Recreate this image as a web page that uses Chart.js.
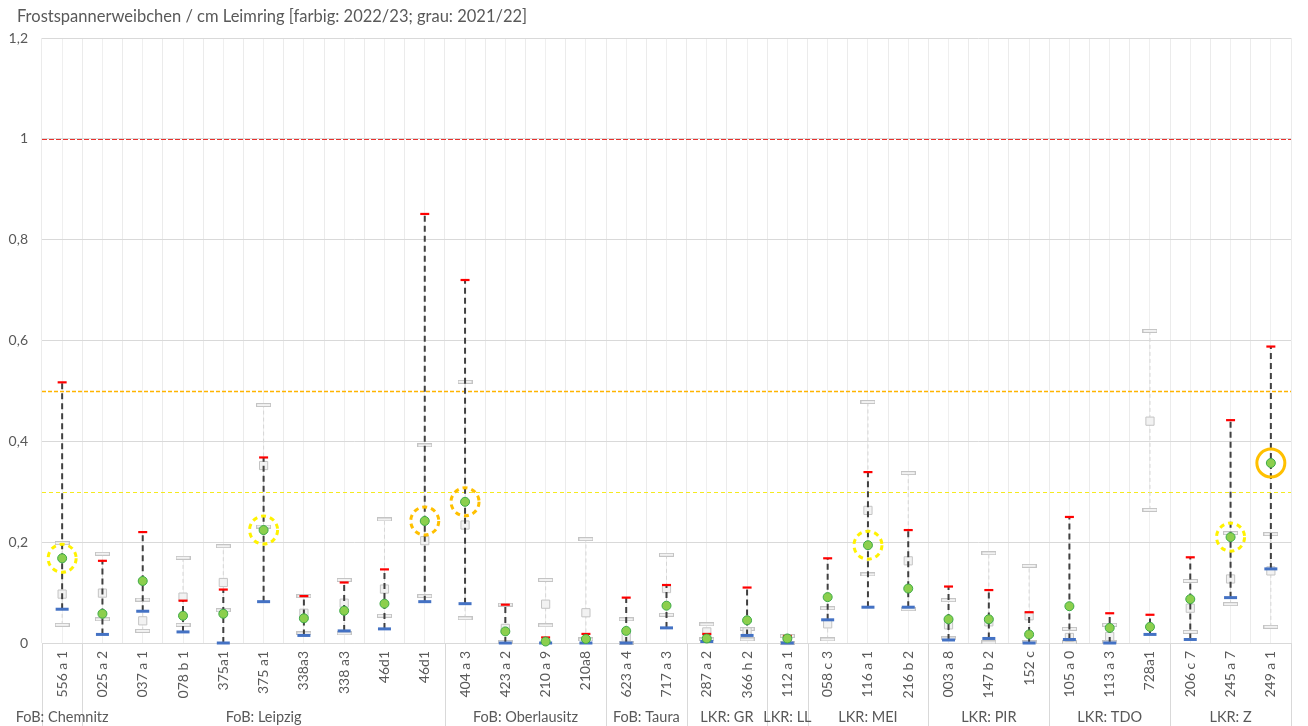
<!DOCTYPE html>
<html>
<head>
<meta charset="utf-8">
<script src="https://cdn.jsdelivr.net/npm/chart.js@4"></script>
<style>
  html, body { margin: 0; padding: 0; background: #fff; }
</style>
</head>
<body>
<canvas id="myChart" width="1308" height="726"></canvas>
<script>
// ---- data ----
var title = "Frostspannerweibchen / cm Leimring [farbig: 2022/23; grau: 2021/22]";

var labels = ["556 a 1", "025 a 2", "037 a 1", "078 b 1", "375a1", "375 a1", "338a3", "338 a3", "46d1", "46d1",
              "404 a 3", "423 a 2", "210 a 9", "210a8", "623 a 4", "717 a 3", "287 a 2", "366 h 2", "112 a 1",
              "058 c 3", "116 a 1", "216 b 2", "003 a 8", "147 b 2", "152 c", "105 a 0", "113 a 3", "728a1",
              "206 c 7", "245 a 7", "249 a 1"];

var groupNames = ["FoB: Chemnitz", "FoB: Leipzig", "FoB: Oberlausitz", "FoB: Taura", "LKR: GR", "LKR: LL",
                  "LKR: MEI", "LKR: PIR", "LKR: TDO", "LKR: Z"];
var groupSizes = [1, 9, 4, 2, 2, 1, 3, 3, 3, 3];

// 2022/23 (farbig)
var max22  = [0.517, 0.163, 0.220, 0.084, 0.106, 0.368, 0.093, 0.120, 0.146, 0.851, 0.720, 0.076, 0.011, 0.018, 0.090, 0.115,
              0.018, 0.110, 0.014, 0.168, 0.339, 0.224, 0.112, 0.105, 0.061, 0.250, 0.059, 0.056, 0.170, 0.442, 0.588];
var mean22 = [0.168, 0.058, 0.123, 0.054, 0.058, 0.224, 0.049, 0.064, 0.078, 0.242, 0.280, 0.023, 0.003, 0.008, 0.024, 0.074,
              0.009, 0.045, 0.009, 0.091, 0.194, 0.108, 0.047, 0.047, 0.017, 0.073, 0.030, 0.032, 0.087, 0.210, 0.357];
var min22  = [0.067, 0.017, 0.063, 0.022, 0.000, 0.082, 0.015, 0.024, 0.028, 0.082, 0.078, 0.000, 0.000, 0.000, 0.000, 0.030,
              0.003, 0.015, 0.000, 0.046, 0.071, 0.071, 0.006, 0.009, 0.000, 0.007, 0.000, 0.017, 0.007, 0.090, 0.147];

// 2021/22 (grau)
var max21  = [0.198, 0.177, 0.086, 0.169, 0.192, 0.472, 0.093, 0.125, 0.245, 0.392, 0.518, 0.076, 0.125, 0.206, 0.047, 0.175,
              0.037, 0.028, 0.014, 0.069, 0.478, 0.337, 0.085, 0.178, 0.153, 0.028, 0.036, 0.619, 0.123, 0.218, 0.216];
var mean21 = [0.097, 0.099, 0.044, 0.091, 0.120, 0.352, 0.059, 0.079, 0.107, 0.203, 0.234, 0.029, 0.077, 0.060, 0.012, 0.108,
              0.022, 0.022, 0.005, 0.038, 0.263, 0.163, 0.036, 0.042, 0.054, 0.011, 0.013, 0.440, 0.069, 0.127, 0.143];
var min21  = [0.036, 0.047, 0.024, 0.036, 0.065, 0.231, 0.019, 0.019, 0.054, 0.093, 0.049, 0.002, 0.035, 0.007, 0.000, 0.056,
              0.007, 0.007, 0.000, 0.007, 0.136, 0.067, 0.009, 0.001, 0.001, 0.001, 0.001, 0.264, 0.022, 0.077, 0.032];

// highlighted sites (circle round the 2022/23 mean)
var yellowDashed = [0, 5, 20, 29];
var orangeDashed = [9, 10];
var orangeSolid  = [30];

var yTickLabels = ["0", "0,2", "0,4", "0,6", "0,8", "1", "1,2"];
var refLines = [1, 0.5, 0.3];

// ---- styles ----
var refStyles = [
    { color: "#E8322E", dash: [5, 2], width: 1 },
    { color: "#FFB400", dash: [4, 2], width: 1.5 },
    { color: "#F5EA20", dash: [4, 3], width: 1 }
];
var textColor = "#595959";
var fontFamily = "Lato";

function rangeData(lo, hi) {
    var out = [];
    for (var i = 0; i < lo.length; i++) {
        out.push({ x: i, y: lo[i] });
        out.push({ x: i, y: hi[i] });
        out.push({ x: i, y: null });
    }
    return out;
}

function pick(values, idx) {
    return values.map(function (v, i) { return idx.indexOf(i) >= 0 ? v : null; });
}

function makeDash(w, h, fill, stroke) {
    var c = document.createElement("canvas");
    c.width = w; c.height = h;
    var g = c.getContext("2d");
    g.fillStyle = fill;
    g.fillRect(0, 0, w, h);
    g.strokeStyle = stroke;
    g.lineWidth = 1;
    g.strokeRect(0.5, 0.5, w - 1, h - 1);
    return c;
}
var grayDash = makeDash(15, 4, "#F2F2F2", "#C4C4C4");

function markers(label, data, extra) {
    var ds = { label: label, data: data, showLine: false, clip: false, pointHoverRadius: 0 };
    for (var k in extra) ds[k] = extra[k];
    return ds;
}

// dashed outline for point markers
var dashedPoints = {
    id: "dashedPoints",
    beforeDatasetDraw: function (chart, args) {
        var ds = chart.data.datasets[args.index];
        if (ds.pointDash) { chart.ctx.save(); chart.ctx.setLineDash(ds.pointDash); }
    },
    afterDatasetDraw: function (chart, args) {
        var ds = chart.data.datasets[args.index];
        if (ds.pointDash) chart.ctx.restore();
    }
};

// horizontal reference lines
var refLinePlugin = {
    id: "refLines",
    beforeDatasetsDraw: function (chart) {
        var ctx = chart.ctx, area = chart.chartArea, y = chart.scales.y;
        refLines.forEach(function (v, i) {
            var py = Math.round(y.getPixelForValue(v)) + 0.5;
            ctx.save();
            ctx.strokeStyle = refStyles[i].color;
            ctx.lineWidth = refStyles[i].width;
            ctx.setLineDash(refStyles[i].dash);
            ctx.beginPath();
            ctx.moveTo(area.left, py);
            ctx.lineTo(area.right, py);
            ctx.stroke();
            ctx.restore();
        });
    }
};

// title, group labels and separators under the category axis
var groupPlugin = {
    id: "groups",
    afterDraw: function (chart) {
        var ctx = chart.ctx, area = chart.chartArea, x = chart.scales.x;
        var half = (x.getPixelForValue(1) - x.getPixelForValue(0)) / 2;
        ctx.save();
        ctx.fillStyle = textColor;
        ctx.textBaseline = "middle";
        ctx.font = "16.5px " + fontFamily;
        ctx.textAlign = "left";
        ctx.fillText(title, 17, 17);

        ctx.strokeStyle = "#D9D9D9";
        ctx.lineWidth = 1;
        ctx.font = "14.5px " + fontFamily;
        ctx.textAlign = "center";
        function sep(px) {
            px = Math.round(px) + 0.5;
            ctx.beginPath();
            ctx.moveTo(px, area.bottom);
            ctx.lineTo(px, chart.height);
            ctx.stroke();
        }
        var start = 0;
        sep(x.getPixelForValue(0) - half);
        groupNames.forEach(function (name, g) {
            var end = start + groupSizes[g] - 1;
            var l = x.getPixelForValue(start) - half;
            var r = x.getPixelForValue(end) + half;
            sep(r);
            ctx.fillText(name, (l + r) / 2, 717);
            start = end + 1;
        });
        ctx.restore();
    }
};

Chart.defaults.font.family = fontFamily;
Chart.defaults.color = textColor;

var ctx = document.getElementById("myChart");
var chart = new Chart(ctx, {
    type: "line",
    data: {
        labels: labels,
        datasets: [
            markers("orange", pick(mean22, orangeSolid), {
                pointStyle: "circle", pointRadius: 14, pointBorderWidth: 3,
                pointBorderColor: "#FFC000", pointBackgroundColor: "rgba(0,0,0,0)"
            }),
            markers("orange dashed", pick(mean22, orangeDashed), {
                pointStyle: "circle", pointRadius: 14, pointBorderWidth: 3, pointDash: [5, 4],
                pointBorderColor: "#FFC000", pointBackgroundColor: "rgba(0,0,0,0)"
            }),
            markers("yellow dashed", pick(mean22, yellowDashed), {
                pointStyle: "circle", pointRadius: 14, pointBorderWidth: 3, pointDash: [5, 4],
                pointBorderColor: "#FFF200", pointBackgroundColor: "rgba(0,0,0,0)"
            }),
            markers("Mittel 2022/23", mean22, {
                pointStyle: "circle", pointRadius: 4.5, pointBorderWidth: 1,
                pointBorderColor: "#3DAA48", pointBackgroundColor: "#8CCF4D"
            }),
            markers("Max 2022/23", max22, {
                pointStyle: "line", pointRadius: 4.5, pointBorderWidth: 2.2, pointBorderColor: "#FF0000"
            }),
            markers("Min 2022/23", min22, {
                pointStyle: "line", pointRadius: 6.5, pointBorderWidth: 3, pointBorderColor: "#4472C4"
            }),
            {
                label: "Spanne 2022/23", data: rangeData(min22, max22), xAxisID: "xr", clip: false,
                borderColor: "#404040", borderWidth: 2, borderDash: [6, 4], pointRadius: 0, spanGaps: false
            },
            markers("Mittel 2021/22", mean21, {
                pointStyle: "rect", pointRadius: 5.8, pointBorderWidth: 1,
                pointBorderColor: "#C4C4C4", pointBackgroundColor: "#F2F2F2"
            }),
            markers("Max 2021/22", max21, { pointStyle: grayDash, pointRadius: 6 }),
            markers("Min 2021/22", min21, { pointStyle: grayDash, pointRadius: 6 }),
            {
                label: "Spanne 2021/22", data: rangeData(min21, max21), xAxisID: "xr", clip: false,
                borderColor: "#D6D6D6", borderWidth: 1, borderDash: [4, 3], pointRadius: 0, spanGaps: false
            }
        ]
    },
    options: {
        responsive: false,
        animation: false,
        events: [],
        layout: { padding: { left: 0, right: 6, top: 38, bottom: 0 } },
        plugins: {
            legend: { display: false },
            tooltip: { enabled: false },
            title: { display: false }
        },
        scales: {
            x: {
                type: "category", offset: true,
                grid: { offset: true, color: "#EBEBEB", drawTicks: false },
                border: { color: "#D9D9D9" },
                ticks: { autoSkip: false, minRotation: 90, maxRotation: 90, padding: 8, font: { size: 14 } },
                afterFit: function (s) { s.height = 83; }
            },
            x2: {
                type: "category", position: "bottom", offset: true,
                grid: { offset: false, color: "#EFEFEF", drawTicks: false },
                border: { display: false },
                ticks: { display: false },
                afterFit: function (s) { s.height = 0; }
            },
            xr: {
                type: "linear", display: false,
                min: -0.5, max: labels.length - 0.5
            },
            y: {
                min: 0, max: 1.2,
                grid: { color: "#D9D9D9", drawTicks: false },
                border: { display: false },
                ticks: {
                    stepSize: 0.2, padding: 14, font: { size: 14 },
                    callback: function (v, i) { return yTickLabels[i]; }
                },
                afterFit: function (s) { s.width = 42; }
            }
        }
    },
    plugins: [dashedPoints, refLinePlugin, groupPlugin]
});
</script>
</body>
</html>
